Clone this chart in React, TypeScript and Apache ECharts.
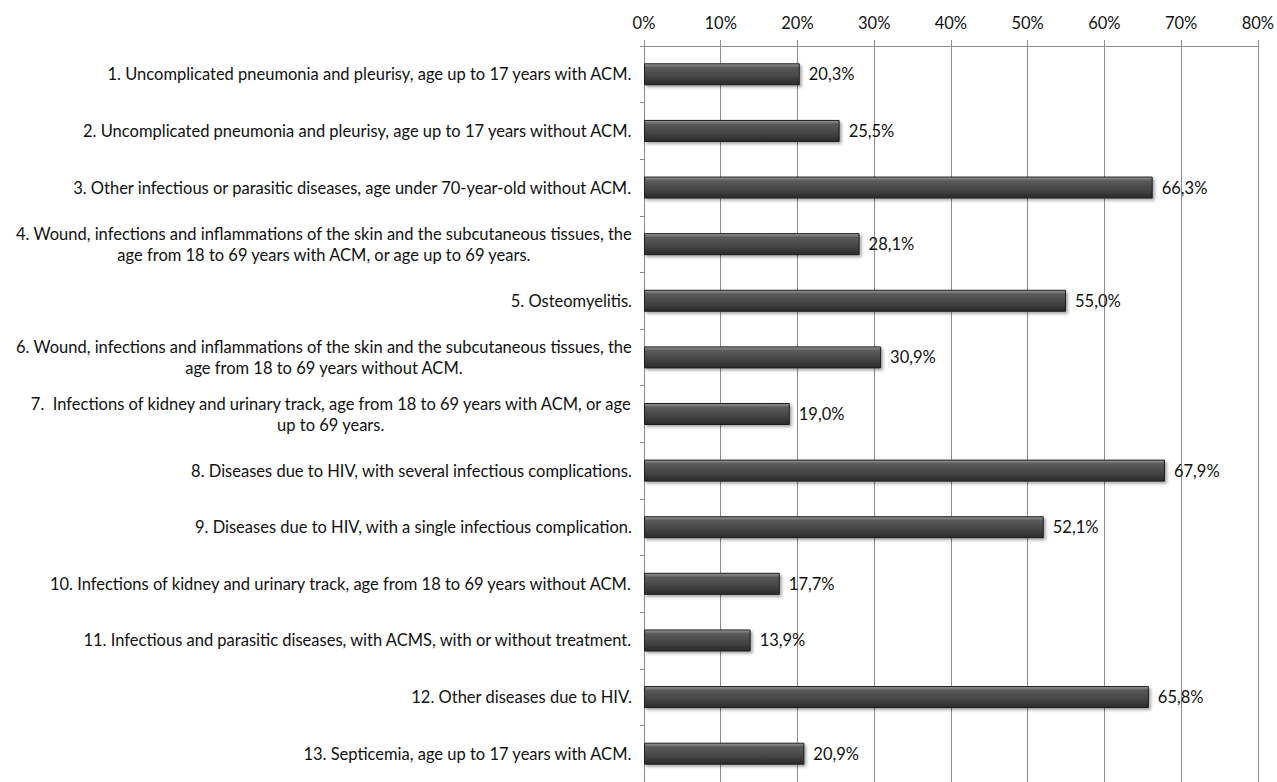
import React, { useEffect, useRef } from "react";
import * as echarts from "echarts";

const categories: string[] = [
  "1. Uncomplicated pneumonia and pleurisy, age up to 17 years with ACM.",
  "2. Uncomplicated pneumonia and pleurisy, age up to 17 years without ACM.",
  "3. Other infectious or parasitic diseases, age under 70-year-old without ACM.",
  "4. Wound, infections and inflammations of the skin and the subcutaneous tissues, the\nage from 18 to 69 years with ACM, or age up to 69 years.",
  "5. Osteomyelitis.",
  "6. Wound, infections and inflammations of the skin and the subcutaneous tissues, the\nage from 18 to 69 years without ACM.",
  "7.  Infections of kidney and urinary track, age from 18 to 69 years with ACM, or age\nup to 69 years.",
  "8. Diseases due to HIV, with several infectious complications.",
  "9. Diseases due to HIV, with a single infectious complication.",
  "10. Infections of kidney and urinary track, age from 18 to 69 years without ACM.",
  "11. Infectious and parasitic diseases, with ACMS, with or without treatment.",
  "12. Other diseases due to HIV.",
  "13. Septicemia, age up to 17 years with ACM.",
];

const values: number[] = [20.3, 25.5, 66.3, 28.1, 55.0, 30.9, 19.0, 67.9, 52.1, 17.7, 13.9, 65.8, 20.9];

const FONT = "Lato, 'Open Sans', sans-serif";
const FS = 16.5;

export default function App() {
  const ref = useRef<HTMLDivElement>(null);
  useEffect(() => {
    document.body.style.margin = "0";
    if (!ref.current) return;
    const chart = echarts.init(ref.current, undefined, { renderer: "svg" });
    chart.setOption({
      animation: false,
      backgroundColor: "#ffffff",
      grid: { left: 644, top: 46, width: 618, height: 741, containLabel: false },
      xAxis: {
        type: "value",
        position: "top",
        min: 0,
        max: 80,
        interval: 10,
        axisLine: { show: true, lineStyle: { color: "#8c8c8c", width: 1 } },
        axisTick: { show: true, length: 6, lineStyle: { color: "#8c8c8c" } },
        axisLabel: {
          formatter: (v: number) => v + "%",
          color: "#111",
          fontSize: FS,
          fontFamily: FONT,
          margin: 15,
        },
        splitLine: { show: true, lineStyle: { color: "#8c8c8c", width: 1 } },
      },
      yAxis: {
        type: "category",
        inverse: true,
        data: categories,
        axisLine: { show: true, lineStyle: { color: "#8c8c8c" } },
        axisTick: { show: true, length: 4, interval: 0, lineStyle: { color: "#8c8c8c" } },
        axisLabel: {
          interval: 0,
          margin: 12,
          color: "#111",
          fontSize: FS,
          fontFamily: FONT,
          lineHeight: 21,
          formatter: (v: string) =>
            v.split("\n").map((l) => "{c|" + l + "}").join("\n"),
          rich: {
            c: { align: "center", fontSize: FS, fontFamily: FONT, color: "#111", lineHeight: 21 },
          },
        },
      },
      series: [
        {
          type: "bar",
          data: values,
          barWidth: 22,
          itemStyle: {
            color: new echarts.graphic.LinearGradient(0, 0, 0, 1, [
              { offset: 0, color: "#9a9a9a" },
              { offset: 0.18, color: "#5a5a5a" },
              { offset: 0.6, color: "#454545" },
              { offset: 1, color: "#2a2a2a" },
            ]),
            borderColor: "#1e1e1e",
            borderWidth: 1,
            shadowBlur: 3,
            shadowColor: "rgba(0,0,0,0.35)",
            shadowOffsetX: 2,
            shadowOffsetY: 2,
          },
          label: {
            show: true,
            position: "right",
            distance: 9,
            color: "#111",
            fontSize: FS,
            fontFamily: FONT,
            formatter: (p: any) => p.value.toFixed(1).replace(".", ",") + "%",
          },
        },
      ],
    });
    return () => chart.dispose();
  }, []);
  return <div ref={ref} style={{ width: 1277, height: 782 }} />;
}
